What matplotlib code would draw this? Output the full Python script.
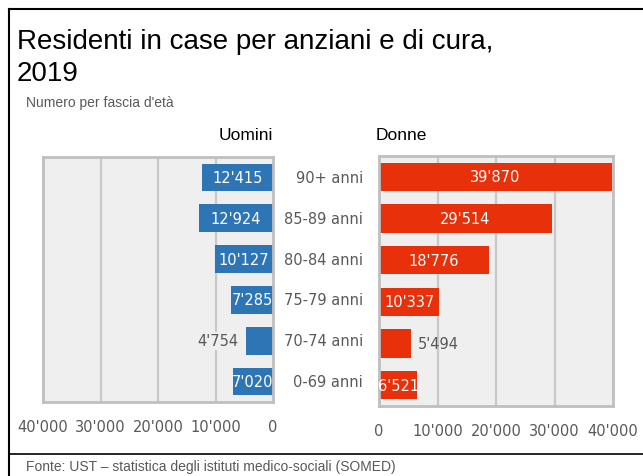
import matplotlib.pyplot as plt
from matplotlib.ticker import FuncFormatter
from matplotlib.lines import Line2D

categorie = ['90+ anni', '85-89 anni', '80-84 anni', '75-79 anni', '70-74 anni', '0-69 anni']
uomini = [12415, 12924, 10127, 7285, 4754, 7020]
donne = [39870, 29514, 18776, 10337, 5494, 6521]
tick_vals = [0, 10000, 20000, 30000, 40000]

BLU = '#2E75B6'
ROSSO = '#E8300A'
GRIGIO = '#595959'
SFONDO = '#EFEFEF'
BORDO = '#BFBFBF'
SANS = 'Liberation Sans'


def fmt(v, pos=None):
    return f"{int(v):,}".replace(',', "'")


fig = plt.figure(figsize=(6.43, 4.77), dpi=100)
W, H = 643, 477


def box(x0, y0, x1, y1):
    return [x0 / W, 1 - y1 / H, (x1 - x0) / W, (y1 - y0) / H]


ax_u = fig.add_axes(box(43, 158, 273, 403))
ax_d = fig.add_axes(box(379, 157, 613, 407))

y = list(range(len(categorie)))


def stile(ax):
    ax.set_facecolor(SFONDO)
    for s in ax.spines.values():
        s.set_color(BORDO)
        s.set_linewidth(2)
    ax.set_xticks(tick_vals)
    ax.xaxis.set_major_formatter(FuncFormatter(fmt))
    ax.set_yticks([])
    ax.tick_params(axis='x', length=0, labelsize=10.5, labelcolor=GRIGIO, pad=12)
    for t in tick_vals[1:-1]:
        ax.axvline(t, color='#C8C8C8', lw=1.6, zorder=0)
    ax.set_ylim(len(categorie) - 0.5, -0.5)


stile(ax_u)
stile(ax_d)
ax_u.set_xlim(40000, 0)
ax_d.set_xlim(0, 40000)

ax_u.barh(y, uomini, height=0.68, color=BLU, zorder=2)
ax_d.barh(y, donne, height=0.68, color=ROSSO, zorder=2)

# etichette dei valori
for i, v in enumerate(uomini):
    if v < 6000:
        ax_u.text(v + 1200, i, fmt(v), ha='right', va='center', fontsize=10.5,
                  color=GRIGIO, zorder=3,
                  bbox=dict(facecolor=SFONDO, edgecolor='none', pad=1))
    else:
        ax_u.text(v / 2, i, fmt(v), ha='center', va='center', fontsize=10.5,
                  color='white', zorder=3)
for i, v in enumerate(donne):
    if v < 6000:
        ax_d.text(v + 1200, i, fmt(v), ha='left', va='center', fontsize=10.5,
                  color=GRIGIO, zorder=3)
    else:
        ax_d.text(v / 2, i, fmt(v), ha='center', va='center', fontsize=10.5,
                  color='white', zorder=3)

# categorie al centro
for i, c in enumerate(categorie):
    ax_u.annotate(c, xy=(1, i), xycoords=('axes fraction', 'data'),
                  xytext=(90, 0), textcoords='offset pixels',
                  ha='right', va='center', fontsize=10.5, color=GRIGIO)

fig.text(273 / W, 1 - 136 / H, 'Uomini', ha='right', va='center', fontsize=12.5,
         family=SANS)
fig.text(376 / W, 1 - 136 / H, 'Donne', ha='left', va='center', fontsize=12.5,
         family=SANS)

fig.text(17 / W, 1 - 58 / H, 'Residenti in case per anziani e di cura,\n2019',
         ha='left', va='center', fontsize=20, family=SANS,
         linespacing=1.3)
fig.text(26 / W, 1 - 103 / H, "Numero per fascia d'età", ha='left', va='center',
         fontsize=10, color=GRIGIO, family=SANS)
fig.text(26 / W, 1 - 467 / H,
         'Fonte: UST – statistica degli istituti medico-sociali (SOMED)',
         ha='left', va='center', fontsize=10, color=GRIGIO, family=SANS)

# cornice
fig.add_artist(Line2D([9 / W, 9 / W], [0, 1 - 10 / H], color='black', lw=1.5))
fig.add_artist(Line2D([9 / W, 1], [1 - 10 / H, 1 - 10 / H], color='black', lw=1.5))
fig.add_artist(Line2D([9 / W, 1], [1 - 455 / H, 1 - 455 / H], color='black', lw=1.2))

fig.savefig('out.png', dpi=100)
